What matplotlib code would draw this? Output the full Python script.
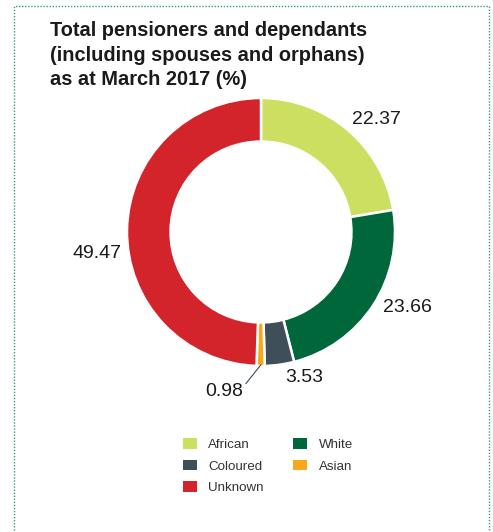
import matplotlib.pyplot as plt
from matplotlib.patches import Rectangle, Patch
import numpy as np

plt.rcParams['font.family'] = ['Liberation Sans', 'DejaVu Sans']

# data
groups = ['African', 'White', 'Coloured', 'Asian', 'Unknown']
values = [22.37, 23.66, 3.53, 0.98, 49.47]
colors = ['#cddf60', '#00673a', '#3e4f59', '#f7a81b', '#d3242c']
value_labels = ['22.37', '23.66', '3.53', '0.98', '49.47']

W, H = 493, 532
fig = plt.figure(figsize=(W / 100, H / 100), dpi=100)

# dotted frame round the panel
fig.patches.append(Rectangle((14 / W, -0.05), 475 / W, 1.05 - 6 / H,
                             transform=fig.transFigure, fill=False,
                             ls=(0, (1, 1.2)), lw=1, ec='#3a9a6a'))

fig.text(50 / W, 1 - 21 / H,
         'Total pensioners and dependants\n(including spouses and orphans)\nas at March 2017 (%)',
         fontsize=14.4, fontweight='bold', color='#1a1a1a',
         va='top', ha='left', linespacing=1.38)

# donut
cx, cy, r = 261, 232, 134
ax = fig.add_axes([(cx - r) / W, 1 - (cy + r) / H, 2 * r / W, 2 * r / H])
wedges, _ = ax.pie(values, colors=colors, startangle=90, counterclock=False,
                   radius=1, wedgeprops=dict(width=0.325, edgecolor='white', linewidth=1.8))
ax.set_xlim(-1, 1)
ax.set_ylim(-1, 1)
ax.set_aspect('auto')
ax.axis('off')

# label placement: angle shift (deg) and radius from centre for each value
shift = [-5.5, 5.8, 8.5, 0, 8.6]
dist = [1.2, 1.227, 1.13, 1.0, 1.235]
for w, lab, s, d in zip(wedges, value_labels, shift, dist):
    mid = np.deg2rad((w.theta1 + w.theta2) / 2 + s)
    x, y = d * np.cos(mid), d * np.sin(mid)
    if lab == '0.98':
        ax.annotate(lab, xy=(0.0, -0.99), xytext=(-0.134, -1.19),
                    fontsize=14, color='#1a1a1a', ha='right', va='center',
                    arrowprops=dict(arrowstyle='-', color='#3e4f59', lw=0.8,
                                    shrinkA=0, shrinkB=0, relpos=(1.0, 0.75)))
    else:
        ax.text(x, y, lab, fontsize=14, color='#1a1a1a', ha='center', va='center')

# legend, filled column by column
order = [0, 2, 4, 1, 3]
handles = [Patch(facecolor=colors[i], edgecolor='none', label=groups[i]) for i in order]
fig.legend(handles=handles, ncol=2, frameon=False, loc='upper left',
           bbox_to_anchor=(171 / W, 1 - 426 / H), fontsize=9.6,
           handlelength=1.05, handleheight=0.85, handletextpad=0.85,
           columnspacing=2.2, labelspacing=0.65, labelcolor='#333333')

fig.savefig('out.png', dpi=100)
